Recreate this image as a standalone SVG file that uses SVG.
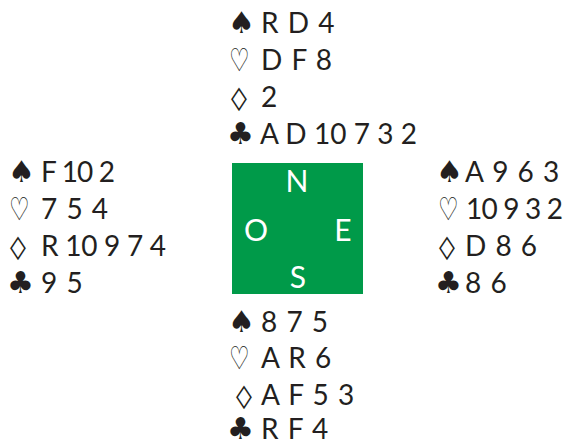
<svg xmlns="http://www.w3.org/2000/svg" width="566" height="443" viewBox="0 0 566 443">
<style>
.t{font-family:Lato,"Open Sans","Liberation Sans",sans-serif;font-size:28px;fill:#231f20;letter-spacing:1px}
.s{font-family:"DejaVu Sans",sans-serif;font-size:30px;fill:#231f20}
.h{font-family:"DejaVu Sans",sans-serif;font-size:32px;fill:#231f20}
.d{font-family:"DejaVu Sans",sans-serif;font-size:23px;fill:#231f20}
.c{font-family:Lato,"Open Sans","Liberation Sans",sans-serif;font-size:30px;fill:#fff;text-anchor:middle}
</style>
<rect width="566" height="443" fill="#fff"/>
<g id="table">
<rect x="232" y="163" width="131" height="131" fill="#009a49"/>
<text class="c" x="297" y="192">N</text>
<text class="c" x="256" y="241">O</text>
<text class="c" x="343" y="241">E</text>
<text class="c" x="298" y="288">S</text>
</g>
<g id="north">
<text class="s" x="228" y="33">♠</text><text class="t" x="261" y="33">R D 4</text>
<text class="h" transform="translate(229 71) scale(0.72 1)">♡</text><text class="t" x="261" y="70">D F 8</text>
<text class="d" transform="translate(231 106) scale(1.4 1)">◊</text><text class="t" x="261" y="107">2</text>
<text class="s" x="227" y="144">♣</text><text class="t" x="260" y="144" textLength="158" lengthAdjust="spacing">A D 10 7 3 2</text>
</g>
<g id="west">
<text class="s" x="8" y="182">♠</text><text class="t" x="41" y="182" textLength="75" lengthAdjust="spacing">F 10 2</text>
<text class="h" transform="translate(9 220) scale(0.72 1)">♡</text><text class="t" x="41" y="219">7 5 4</text>
<text class="d" transform="translate(10 255) scale(1.4 1)">◊</text><text class="t" x="41" y="256" textLength="126" lengthAdjust="spacing">R 10 9 7 4</text>
<text class="s" x="7" y="293">♣</text><text class="t" x="41" y="293">9 5</text>
</g>
<g id="east">
<text class="s" x="436" y="182">♠</text><text class="t" x="465" y="182">A 9 6 3</text>
<text class="h" transform="translate(438 220) scale(0.72 1)">♡</text><text class="t" x="466" y="219" textLength="98" lengthAdjust="spacing">10 9 3 2</text>
<text class="d" transform="translate(439 255) scale(1.4 1)">◊</text><text class="t" x="465" y="256">D 8 6</text>
<text class="s" x="435" y="293">♣</text><text class="t" x="465" y="293">8 6</text>
</g>
<g id="south">
<text class="s" x="228" y="332">♠</text><text class="t" x="261" y="332">8 7 5</text>
<text class="h" transform="translate(229 369) scale(0.72 1)">♡</text><text class="t" x="261" y="368">A R 6</text>
<text class="d" transform="translate(236 404) scale(1.4 1)">◊</text><text class="t" x="261" y="405">A F 5 3</text>
<text class="s" x="227" y="439">♣</text><text class="t" x="261" y="439">R F 4</text>
</g>
<g id="connectors"/>
</svg>
